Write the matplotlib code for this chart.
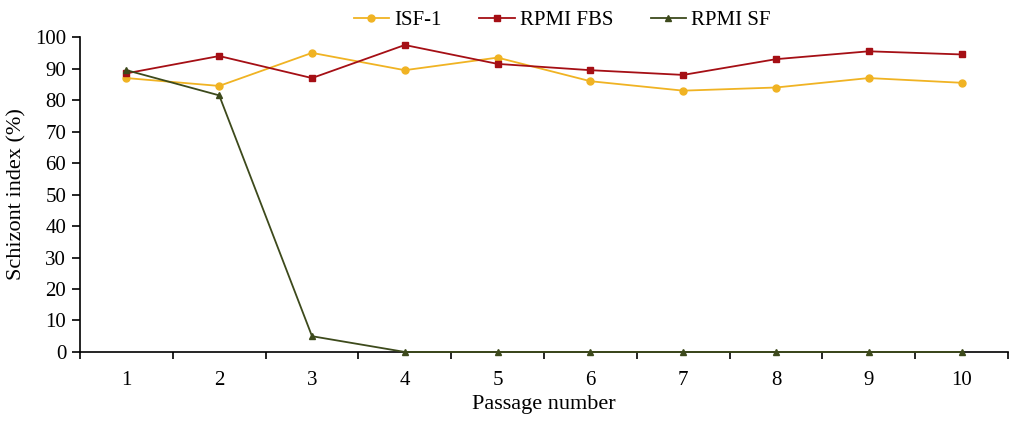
import matplotlib.pyplot as plt

passages = [1, 2, 3, 4, 5, 6, 7, 8, 9, 10]
isf1 = [87, 84.5, 95, 89.5, 93.5, 86, 83, 84, 87, 85.5]
rpmi_fbs = [88.5, 94, 87, 97.5, 91.5, 89.5, 88, 93, 95.5, 94.5]
rpmi_sf = [89.5, 81.5, 5, 0, 0, 0, 0, 0, 0, 0]
yticks = [0, 10, 20, 30, 40, 50, 60, 70, 80, 90, 100]

plt.rcParams['font.family'] = ['Liberation Serif', 'DejaVu Serif']

fig = plt.figure(figsize=(10.13, 4.22), dpi=100)
ax = fig.add_axes([0.079, 0.166, 0.916, 0.746])

ax.plot(passages, isf1, color='#F0B323', marker='o', markersize=5, linewidth=1.3,
        label='ISF-1', clip_on=False, zorder=3)
ax.plot(passages, rpmi_fbs, color='#A50F15', marker='s', markersize=5, linewidth=1.3,
        label='RPMI FBS', clip_on=False, zorder=3)
ax.plot(passages, rpmi_sf, color='#3D4A1C', marker='^', markersize=5, linewidth=1.3,
        label='RPMI SF', clip_on=False, zorder=4)

ax.set_xlim(0.5, 10.5)
ax.set_ylim(0, 100)
ax.set_yticks(yticks)
ax.set_xticks(passages)
ax.set_xticks([p + 0.5 for p in passages[:-1]] + [0.5, 10.5], minor=True)
ax.tick_params(axis='x', which='major', length=0, labelsize=15, pad=14)
ax.tick_params(axis='x', which='minor', length=5, width=1.2, direction='out')
ax.tick_params(axis='y', length=6, width=1.2, labelsize=15, pad=4)

for side in ['top', 'right']:
    ax.spines[side].set_visible(False)
for side in ['left', 'bottom']:
    ax.spines[side].set_linewidth(1.2)
    ax.spines[side].set_zorder(2)

ax.set_xlabel('Passage number', fontsize=16, labelpad=3)
ax.set_ylabel('Schizont index (%)', fontsize=16, labelpad=6)

fig.legend(loc='upper center', bbox_to_anchor=(0.555, 1.02), ncol=3, frameon=False,
           fontsize=15, handlelength=1.7, columnspacing=1.8, handletextpad=0.25)

fig.savefig('out.png', dpi=100)
